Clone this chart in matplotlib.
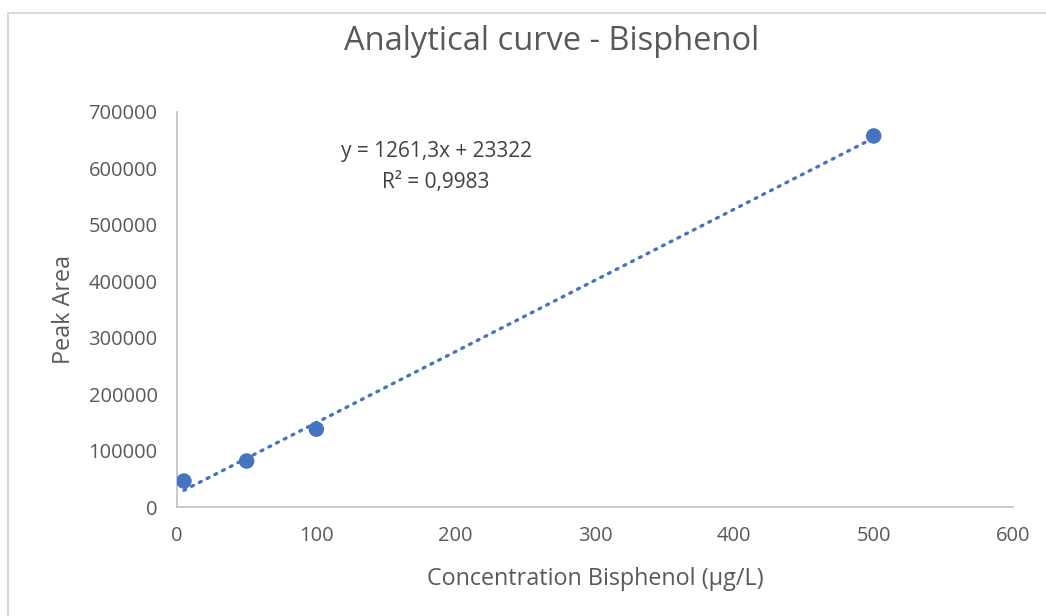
import numpy as np
import matplotlib.pyplot as plt
from matplotlib.lines import Line2D

plt.rcParams["font.family"] = ["Open Sans", "DejaVu Sans"]

# Calibration data
concentration = [5, 50, 100, 500]
peak_area = [46000, 81500, 138000, 657500]

# Excel trendline as printed on the chart
slope = 1261.3
intercept = 23322
r2 = 0.9983

x_ticks = [0, 100, 200, 300, 400, 500, 600]
y_ticks = [0, 100000, 200000, 300000, 400000, 500000, 600000, 700000]

BLUE = "#4674C1"
GRAY_TEXT = "#595959"
AXIS_GRAY = "#BFBFBF"

fig = plt.figure(figsize=(10.46, 6.16), dpi=100)
ax = fig.add_axes([0.1692, 0.1769, 0.7993, 0.6413])

x_fit = np.array([min(concentration), max(concentration)])
ax.plot(x_fit, slope * x_fit + intercept, color=BLUE, linewidth=2.4,
        linestyle=(0, (0.6, 2.0)), dash_capstyle="round", zorder=2)
ax.scatter(concentration, peak_area, s=125, color=BLUE, zorder=3,
           edgecolors="none")

ax.set_xlim(0, 600)
ax.set_ylim(0, 700000)
ax.set_xticks(x_ticks)
ax.set_yticks(y_ticks)
ax.tick_params(length=0, labelsize=14.5, labelcolor=GRAY_TEXT)
ax.tick_params(axis="y", pad=14)
ax.tick_params(axis="x", pad=14)

for side in ["top", "right"]:
    ax.spines[side].set_visible(False)
for side in ["left", "bottom"]:
    ax.spines[side].set_color(AXIS_GRAY)
    ax.spines[side].set_linewidth(1.2)

ax.set_xlabel("Concentration Bisphenol (µg/L)", fontsize=16.8,
              color=GRAY_TEXT, labelpad=15)
ax.set_ylabel("Peak Area", fontsize=16.8, color=GRAY_TEXT, labelpad=9)

fig.text(0.527, 0.932, "Analytical curve - Bisphenol", ha="center",
         va="center", fontsize=23.5, color=GRAY_TEXT)

eq = f"y = {slope}x + {intercept}".replace(".", ",")
r2_txt = f"R² = {r2}".replace(".", ",")
ax.text(186, 603000, eq + "\n" + r2_txt, ha="center", va="center",
        fontsize=15, color="#404040", linespacing=1.6)

# outer chart frame (top and left edges visible in the screenshot)
fig.add_artist(Line2D([8 / 1046, 8 / 1046], [0, 1 - 13 / 616],
                      transform=fig.transFigure, color="#D9D9D9", linewidth=1.5))
fig.add_artist(Line2D([8 / 1046, 1], [1 - 13 / 616, 1 - 13 / 616],
                      transform=fig.transFigure, color="#D9D9D9", linewidth=1.5))

fig.savefig("out.png", dpi=100)
